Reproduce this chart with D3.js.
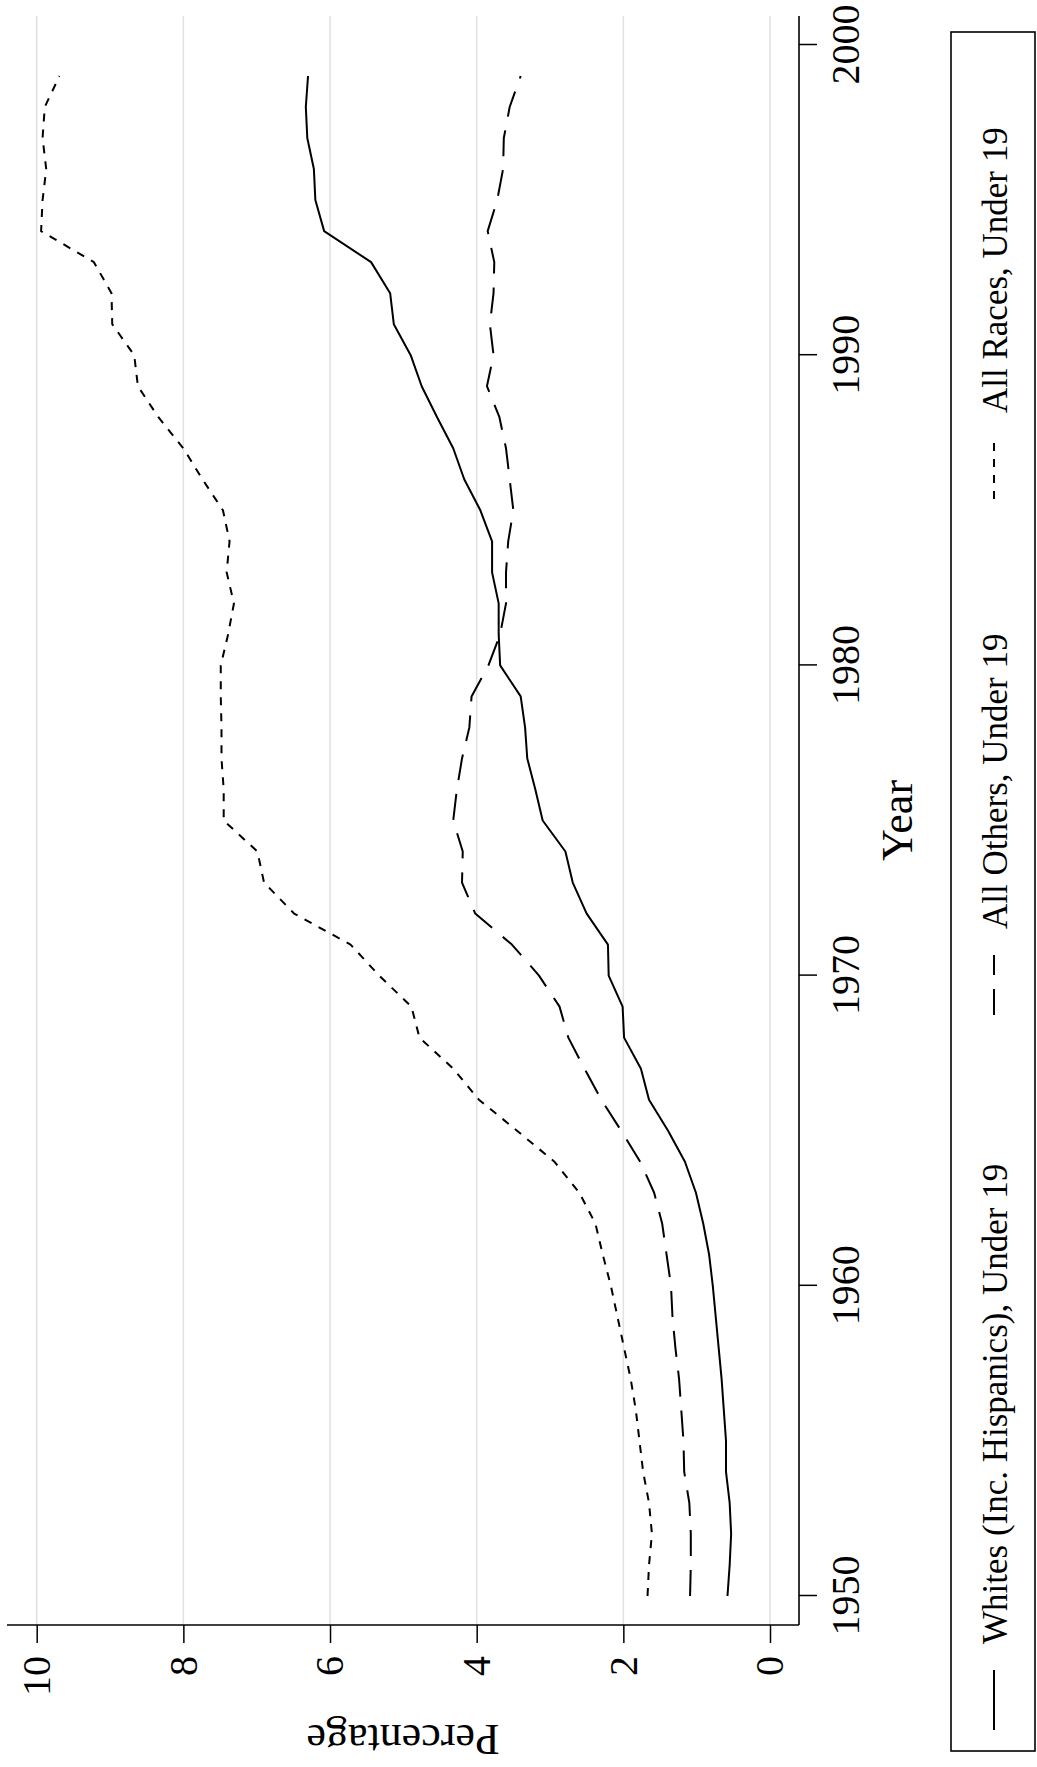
<!DOCTYPE html>
<html><head><meta charset="utf-8">
<script src="https://cdn.jsdelivr.net/npm/d3@7"></script>
<style>
body{margin:0;background:#fff}
svg{display:block;background:#fff}
text{font-family:"Liberation Serif","Times New Roman",serif;fill:#000}
</style>
</head><body>
<svg id="chart" width="1037" height="1767"></svg>
<script>
// ---- data ----
const years = [1950,1951,1952,1953,1954,1955,1956,1957,1958,1959,
               1960,1961,1962,1963,1964,1965,1966,1967,1968,1969,
               1970,1971,1972,1973,1974,1975,1976,1977,1978,1979,
               1980,1981,1982,1983,1984,1985,1986,1987,1988,1989,
               1990,1991,1992,1993,1994,1995,1996,1997,1998,1999];
const whites = [0.58,0.55,0.53,0.55,0.60,0.60,0.63,0.66,0.70,0.74,
                0.78,0.83,0.91,1.01,1.16,1.39,1.65,1.76,1.99,2.01,
                2.20,2.21,2.50,2.69,2.79,3.10,3.20,3.31,3.34,3.40,
                3.68,3.70,3.70,3.79,3.79,3.95,4.17,4.32,4.54,4.75,
                4.90,5.13,5.18,5.44,6.08,6.20,6.22,6.31,6.33,6.30];
const allOthers = [1.09,1.08,1.08,1.10,1.17,1.18,1.21,1.24,1.29,1.33,
                   1.35,1.41,1.47,1.58,1.77,2.03,2.30,2.53,2.75,2.87,
                   3.15,3.52,4.02,4.20,4.19,4.32,4.27,4.20,4.10,4.07,
                   3.84,3.68,3.60,3.60,3.57,3.50,3.55,3.60,3.69,3.86,
                   3.77,3.82,3.77,3.76,3.85,3.72,3.64,3.63,3.55,3.40];
const allRaces = [1.67,1.65,1.61,1.65,1.73,1.78,1.83,1.90,1.99,2.08,
                  2.17,2.28,2.38,2.60,2.94,3.45,3.97,4.32,4.78,4.89,
                  5.33,5.72,6.49,6.90,6.99,7.45,7.45,7.48,7.48,7.49,
                  7.49,7.39,7.31,7.41,7.37,7.46,7.74,8.00,8.34,8.62,
                  8.67,8.97,8.98,9.22,9.94,9.92,9.87,9.92,9.89,9.69];
const seriesLabels = ["Whites (Inc. Hispanics), Under 19","All Others, Under 19","All Races, Under 19"];
const yearTicks = [1950,1960,1970,1980,1990,2000];
const pctTicks = [0,2,4,6,8,10];
const xTitle = "Year";
const yTitle = "Percentage";

// ---- layout (chart drawn in landscape frame, then rotated) ----
const W = 1767, H = 1037;
const svg = d3.select("#chart");
svg.append("rect").attr("width",1037).attr("height",1767).attr("fill","#fff");
const g = svg.append("g").attr("transform",`translate(0,${W}) rotate(-90)`);

const plot = {left:142, right:1751, top:7, bottom:799};
const x = d3.scaleLinear().domain([1950,2000]).range([171,1722]);
const y = d3.scaleLinear().domain([0,10]).range([770,36.7]);

// gridlines
g.append("g").selectAll("line").data(pctTicks).join("line")
  .attr("x1",plot.left).attr("x2",plot.right)
  .attr("y1",d=>y(d)).attr("y2",d=>y(d))
  .attr("stroke","#e2e2e2").attr("stroke-width",1.6);

// axes
const yAxis = g.append("g").attr("transform",`translate(${plot.left},0)`)
  .call(d3.axisLeft(y).tickValues(pctTicks).tickSize(18).tickPadding(13).tickFormat(d3.format("d")));
const xAxis = g.append("g").attr("transform",`translate(0,${plot.bottom})`)
  .call(d3.axisBottom(x).tickValues(yearTicks).tickSize(18).tickPadding(14).tickFormat(d3.format("d")));
[yAxis,xAxis].forEach(a=>{
  a.select(".domain").remove();
  a.selectAll(".tick line").attr("stroke","#000").attr("stroke-width",1.5);
  a.selectAll(".tick text").attr("font-size",40).attr("font-family","Liberation Serif").attr("fill","#000");
});
g.append("line").attr("x1",plot.left).attr("x2",plot.left).attr("y1",plot.top).attr("y2",plot.bottom)
  .attr("stroke","#000").attr("stroke-width",1.6);
g.append("line").attr("x1",plot.left).attr("x2",plot.right).attr("y1",plot.bottom).attr("y2",plot.bottom)
  .attr("stroke","#000").attr("stroke-width",1.6);

// titles
g.append("text").attr("x",(plot.left+plot.right)/2).attr("y",912)
  .attr("text-anchor","middle").attr("font-size",44).text(xTitle);
g.append("text").attr("transform",`translate(42,${(plot.top+plot.bottom)/2}) rotate(-90)`)
  .attr("text-anchor","middle").attr("font-size",44).text(yTitle);

// series
const series = [
  {label:seriesLabels[0], values:whites, dash:null},
  {label:seriesLabels[1], values:allOthers, dash:"26,14"},
  {label:seriesLabels[2], values:allRaces, dash:"8,8"}
];
const line = d3.line().x((d,i)=>x(years[i])).y(d=>y(d));
g.append("g").selectAll("path").data(series).join("path")
  .attr("d",d=>line(d.values))
  .attr("fill","none").attr("stroke","#000").attr("stroke-width",2)
  .attr("stroke-linejoin","round")
  .attr("stroke-dasharray",d=>d.dash);

// legend
const leg = g.append("g");
leg.append("rect").attr("x",16).attr("y",951).attr("width",1719).attr("height",84)
  .attr("fill","#fff").attr("stroke","#000").attr("stroke-width",1.6);
const itemStart = [37,752,1268];
const items = leg.selectAll("g.item").data(series).join("g").attr("class","item")
  .attr("transform",(d,i)=>`translate(${itemStart[i]},0)`);
items.append("line").attr("x1",0).attr("x2",60).attr("y1",994).attr("y2",994)
  .attr("stroke","#000").attr("stroke-width",2).attr("stroke-dasharray",d=>d.dash);
items.append("text").attr("x",86).attr("y",1007).attr("font-size",35).text(d=>d.label);
</script>
</body></html>
